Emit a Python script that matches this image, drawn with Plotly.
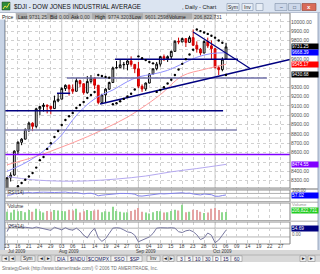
import plotly.graph_objects as go

# ---------------- data ----------------
TICK_IDX = list(range(0, 76, 3))
TICK_LABELS = ['13', '16', '21', '24', '29', '03', '06', '11', '14', '19', '24', '27', '01',
               '04', '10', '15', '18', '23', '28', '01', '06', '09', '14', '19', '22', '27']
MONTH_IDX = [0, 15, 36, 57]
MONTH_LABELS = ['Jul 2009', 'Aug 2009', 'Sep 2009', 'Oct 2009']

OPEN = [8146, 8331, 8360, 8616, 8711, 8744, 8848, 8915, 8881, 9069, 9093, 9108, 9096, 9071, 9154,
        9172, 9286, 9320, 9281, 9256, 9370, 9337, 9241, 9362, 9398, 9321, 9135, 9218, 9279, 9350,
        9506, 9509, 9539, 9543, 9581, 9544, 9496, 9310, 9281, 9345, 9441, 9497, 9547, 9627, 9605,
        9626, 9683, 9791, 9784, 9820, 9779, 9830, 9749, 9707, 9665, 9789, 9742, 9712, 9509, 9488,
        9601.26]
HIGH = [8335, 8390, 8625, 8720, 8755, 8860, 8930, 8925, 9080, 9100, 9130, 9115, 9100, 9210, 9230,
        9300, 9330, 9330, 9330, 9400, 9380, 9340, 9420, 9430, 9410, 9321, 9230, 9290, 9360, 9520,
        9580, 9600, 9570, 9590, 9630, 9544, 9570, 9330, 9350, 9450, 9500, 9570, 9630, 9650, 9640,
        9690, 9800, 9830, 9830, 9820, 9850, 9917, 9790, 9720, 9800, 9830, 9800, 9712, 9530, 9620,
        9774.32]
LOW = [8146, 8291, 8355, 8580, 8680, 8744, 8820, 8830, 8860, 9000, 9040, 9020, 9010, 9071, 9140,
       9172, 9260, 9210, 9230, 9256, 9300, 9220, 9230, 9340, 9280, 9117, 9135, 9140, 9270, 9350,
       9500, 9509, 9490, 9480, 9520, 9450, 9290, 9250, 9260, 9340, 9440, 9480, 9520, 9580, 9570,
       9600, 9683, 9760, 9780, 9730, 9779, 9740, 9670, 9640, 9665, 9720, 9600, 9500, 9430, 9470,
       9601.26]
CLOSE = [8331.68, 8359.49, 8616.21, 8711.82, 8743.94, 8848.15, 8915.94, 8881.26, 9069.29, 9093.24,
         9108.51, 9096.72, 9070.72, 9154.46, 9171.61, 9286.56, 9320.19, 9280.97, 9256.26, 9370.07,
         9337.95, 9241.45, 9361.61, 9398.19, 9321.40, 9135.34, 9217.94, 9279.16, 9350.05, 9505.96,
         9509.28, 9539.29, 9543.52, 9580.63, 9544.20, 9496.28, 9310.60, 9280.67, 9344.61, 9441.27,
         9497.34, 9547.22, 9627.48, 9605.41, 9626.80, 9683.41, 9791.71, 9783.92, 9820.20, 9778.86,
         9829.87, 9748.55, 9707.44, 9665.19, 9789.36, 9742.20, 9712.28, 9509.28, 9487.67, 9599.75,
         9731.25]
VOLUME_M = [210, 190, 260, 220, 230, 200, 250, 210, 280, 220, 190, 230, 210, 250, 240, 230, 220, 260,
            240, 280, 190, 220, 250, 230, 240, 260, 200, 220, 210, 330, 230, 210, 190, 200, 230, 260,
            300, 210, 190, 170, 200, 230, 220, 190, 200, 230, 260, 240, 380, 200, 210, 260, 250, 210,
            180, 190, 280, 300, 250, 200, 206.8]
RSI = [55, 57, 68, 72, 73, 76, 78, 75, 80, 80, 81, 79, 76, 78, 79, 81, 82, 77, 74, 78, 75, 66, 71, 72,
       64, 50, 55, 58, 62, 69, 69, 70, 70, 72, 68, 63, 49, 47, 52, 58, 61, 64, 68, 66, 67, 70, 75, 74,
       76, 71, 73, 65, 61, 57, 65, 61, 59, 46, 45, 52, 57.02]
CCI = [20, 170, 140, 130, 110, 120, 115, 100, 125, 110, 95, 70, 50, 120, 85, 60, 110, 70, 55, 100,
       40, -60, -120, 10, 100, -120, -200, -140, -20, 100, 110, 100, 60, 15, 0, -60, -210, -170, -130,
       -100, -20, 100, 110, 100, 105, 110, 100, 20, 0, 40, 55, 20, -50, -160, -120, -10, -60, -230,
       -170, -60, 54.69]

SAR_IDX = list(range(3, 61))
SAR = [8240, 8276, 8310, 8345, 8382, 8440, 8520, 8553, 8640, 8700, 8767, 8832, 8896, 8949, 8990, 9024,
       9078, 9110, 9142, 9185, 9217, 9249, 9430, 9420, 9410, 9402, 9117, 9128, 9150, 9175, 9200, 9230,
       9275, 9630, 9610, 9590, 9570, 9555, 9250, 9270, 9300, 9340, 9380, 9430, 9490, 9550, 9600, 9650,
       9700, 9917, 9900, 9885, 9870, 9850, 9830, 9800, 9775, 9430.68]

MA20_IDX = [0, 4, 8, 12, 15, 18, 21, 25, 29, 33, 36, 40, 44, 48, 52, 56, 60]
MA20 = [8400, 8470, 8560, 8680, 8790, 8950, 9080, 9200, 9270, 9360, 9410, 9440, 9480, 9550, 9620,
        9660, 9668.39]
MA50_IDX = [0, 8, 15, 22, 28, 33, 37, 42, 48, 54, 60]
MA50 = [8470, 8560, 8660, 8770, 8880, 8980, 9080, 9220, 9420, 9490, 9545.17]
MA200_IDX = [0, 7, 15, 22, 30, 38, 45, 52, 60]
MA200 = [8345, 8310, 8295, 8298, 8318, 8350, 8395, 8430, 8474.55]

# horizontal levels: price, start idx, end idx
LEVEL_PRICE = [9598, 9398, 9235, 9049, 8842, 8580]
LEVEL_START = [29.6, 16.4, 13.7, -0.55, -0.55, -0.55]
LEVEL_END = [63.3, 71.2, 17.3, 59.2, 63.0, 77.53]
TREND1_IDX = [25.5, 77.5]
TREND1 = [9120, 9596]
TREND2_IDX = [51, 66.6]
TREND2 = [9890, 9500]

PRICE_TICKS = list(range(8300, 10001, 100))
HIDDEN_TICKS = [9700, 9500, 9400, 8500]   # covered by value boxes in the reference

# ---------------- layout helpers ----------------
W, H = 320, 274
def px(x):
    return x / W
def py(y):
    return 1 - y / H
def ydom(top, bot):
    return [py(bot), py(top)]

XDOM = [px(5), px(290)]
XR = [-0.55, 77.53]
idx = list(range(len(CLOSE)))
FONT = 'Liberation Sans'

fig = go.Figure()
fig.add_trace(go.Candlestick(
    x=idx, open=OPEN, high=HIGH, low=LOW, close=CLOSE,
    increasing=dict(line=dict(color='#000000', width=1), fillcolor='#ffffff'),
    decreasing=dict(line=dict(color='#cc0000', width=1), fillcolor='#ff0000'),
    whiskerwidth=0, showlegend=False, hoverinfo='skip', xaxis='x', yaxis='y'))

fig.add_trace(go.Scatter(x=MA200_IDX, y=MA200, mode='lines', line=dict(color='#b4a8f0', width=1, shape='spline'),
                         xaxis='x', yaxis='y', hoverinfo='skip'))
fig.add_trace(go.Scatter(x=MA50_IDX, y=MA50, mode='lines', line=dict(color='#ff9c9c', width=1, shape='spline'),
                         xaxis='x', yaxis='y', hoverinfo='skip'))
fig.add_trace(go.Scatter(x=MA20_IDX, y=MA20, mode='lines', line=dict(color='#9090ff', width=1, shape='spline'),
                         xaxis='x', yaxis='y', hoverinfo='skip'))

LEVEL_COLORS = ['#000080', '#7070a8', '#000080', '#000080', '#8080b0', '#8000ff']
for p, s, e, c in zip(LEVEL_PRICE, LEVEL_START, LEVEL_END, LEVEL_COLORS):
    fig.add_trace(go.Scatter(x=[s, e], y=[p, p], mode='lines', line=dict(color=c, width=1.5),
                             xaxis='x', yaxis='y', hoverinfo='skip'))
fig.add_trace(go.Scatter(x=TREND1_IDX, y=TREND1, mode='lines', line=dict(color='#000080', width=1.5),
                         xaxis='x', yaxis='y', hoverinfo='skip'))
fig.add_trace(go.Scatter(x=TREND2_IDX, y=TREND2, mode='lines', line=dict(color='#000080', width=1.2),
                         xaxis='x', yaxis='y', hoverinfo='skip'))
fig.add_trace(go.Scatter(x=SAR_IDX, y=SAR, mode='markers', marker=dict(color='#000000', size=2.4),
                         xaxis='x', yaxis='y', hoverinfo='skip'))

# RSI
fig.add_trace(go.Scatter(x=idx, y=RSI, mode='lines', line=dict(color='#8484ec', width=1),
                         xaxis='x2', yaxis='y2', hoverinfo='skip'))
# Volume
vcol = ['#8ed88e' if c >= o else '#e4a4a4' for o, c in zip(OPEN, CLOSE)]
fig.add_trace(go.Bar(x=idx, y=VOLUME_M, marker=dict(color=vcol, line=dict(width=0)), width=0.35,
                     xaxis='x3', yaxis='y3', hoverinfo='skip'))
# CCI
fig.add_trace(go.Scatter(x=idx, y=CCI, mode='lines', line=dict(color='#7878a0', width=1),
                         xaxis='x4', yaxis='y4', hoverinfo='skip'))

grid = dict(showgrid=True, gridcolor='#d0d0d0', griddash='dot', gridwidth=1)
def xax(anchor):
    d = dict(domain=XDOM, range=XR, tickvals=TICK_IDX, showticklabels=False, zeroline=False,
             showline=False, ticks='', anchor=anchor, fixedrange=True)
    d.update(grid)
    return d

MAIN_TOP, MAIN_BOT = 13, 188
Y_TOP = 8300 + (180.7 - MAIN_TOP) / 0.0935
Y_BOT = 8300 + (180.7 - MAIN_BOT) / 0.0935

fig.update_layout(
    width=W, height=H, margin=dict(l=0, r=0, t=0, b=0),
    paper_bgcolor='#ffffff', plot_bgcolor='#ffffff', showlegend=False,
    font=dict(family=FONT, size=5, color='#404040'),
    bargap=0.5,
    xaxis=dict(**xax('y'), rangeslider=dict(visible=False)),
    xaxis2=dict(**xax('y2'), matches='x'),
    xaxis3=dict(**xax('y3'), matches='x'),
    xaxis4=dict(**xax('y4'), matches='x'),
    yaxis=dict(domain=ydom(MAIN_TOP, MAIN_BOT), range=[Y_BOT, Y_TOP], side='right', anchor='x',
               tickvals=PRICE_TICKS,
               ticktext=['' if v in HIDDEN_TICKS else '%.2f' % v for v in PRICE_TICKS],
               tickfont=dict(size=5, color='#505050', family=FONT), ticks='', ticklen=0,
               zeroline=False, fixedrange=True, **grid),
    yaxis2=dict(domain=ydom(190, 201.5), range=[0, 100], showticklabels=False, showgrid=False,
                zeroline=False, anchor='x2', fixedrange=True),
    yaxis3=dict(domain=ydom(203, 220.5), range=[0, 420], showticklabels=False, showgrid=False,
                zeroline=False, anchor='x3', fixedrange=True),
    yaxis4=dict(domain=ydom(222, 244), range=[-260, 240], showticklabels=False, showgrid=False,
                zeroline=False, anchor='x4', fixedrange=True),
)

shapes = []
def rect(x0, y0, x1, y1, fill, line=None, lw=0.6, layer='above'):
    shapes.append(dict(type='rect', xref='paper', yref='paper', x0=px(x0), x1=px(x1), y0=py(y1), y1=py(y0),
                       fillcolor=fill, line=dict(color=line or fill, width=lw if line else 0), layer=layer))
def hline(x0, x1, y, color, lw=1):
    shapes.append(dict(type='line', xref='paper', yref='paper', x0=px(x0), x1=px(x1), y0=py(y), y1=py(y),
                       line=dict(color=color, width=lw)))
def vline(x, y0, y1, color, lw=1):
    shapes.append(dict(type='line', xref='paper', yref='paper', x0=px(x), x1=px(x), y0=py(y0), y1=py(y1),
                       line=dict(color=color, width=lw)))

# month separators across all panels
for m in MONTH_IDX[1:]:
    shapes.append(dict(type='line', xref='x', yref='paper', x0=m, x1=m, y0=py(244), y1=py(13),
                       line=dict(color='#c8c8c8', width=1), layer='below'))
# RSI 30/70 and CCI +/-100
for v in (30, 70):
    shapes.append(dict(type='line', xref='paper', yref='y2', x0=XDOM[0], x1=XDOM[1], y0=v, y1=v,
                       line=dict(color='#a0a0a0', width=0.8), layer='below'))
for v in (100, -100):
    shapes.append(dict(type='line', xref='paper', yref='y4', x0=XDOM[0], x1=XDOM[1], y0=v, y1=v,
                       line=dict(color='#a0a0a0', width=0.8), layer='below'))

# panel frames / separators
for (t, b) in [(13, 188), (190, 201.5), (203, 220.5), (222, 244)]:
    hline(5, 290, t, '#909090', 1)
    hline(5, 290, b, '#909090', 1)
vline(290, 13, 244, '#808080', 1)
vline(5, 13, 244, '#909090', 1)
rect(5, 188, 318, 190, '#b8b8b8')
rect(5, 201.5, 318, 203, '#c8c8c8')
rect(5, 220.5, 318, 222, '#c8c8c8')

# window frame
rect(0, 0, 4.5, 274, '#c8d4e6')
vline(4.5, 13, 250, '#8898b0', 0.8)
rect(318, 0, 320, 274, '#c8d4e6')
vline(318, 13, 250, '#8898b0', 0.8)
# title bar
rect(0, 0, 320, 12.5, '#dbe4f1')
hline(0, 320, 12.5, '#a8b4c8', 0.8)
rect(2, 2, 10, 10, '#2e8b3a', '#204020', 0.5)
shapes.append(dict(type='path', path='M %f,%f L %f,%f L %f,%f L %f,%f' % (
    px(3), py(9), px(5), py(6), px(7), py(7.5), px(9.5), py(3)), xref='paper', yref='paper',
    line=dict(color='#f0e040', width=1)))
for x0, x1 in [(227, 239), (242, 253)]:
    rect(x0, 3.5, x1, 10.5, '#e8eef6', '#8090a8', 0.6)
rect(256, 3.5, 263, 10.5, '#e8eef6', '#8090a8', 0.6)
rect(275, 3.5, 287, 10.5, '#cdd8ea', '#8090a8', 0.6)
rect(288.5, 3.5, 300.5, 10.5, '#cdd8ea', '#8090a8', 0.6)
rect(302, 3.5, 316, 10.5, '#d96a58', '#904030', 0.6)

# info bar
rect(15.5, 13, 216, 19.5, '#c4c4c4')
rect(0, 13, 15.5, 19.5, '#ffffff')
for x0, x1 in [(16, 27), (47, 57), (68, 78), (92, 106), (129.5, 143), (167, 192)]:
    rect(x0, 13.3, x1, 19.2, '#acacac')

# bottom area
rect(0, 250, 320, 262, '#d8d8d8')
hline(0, 320, 255, '#a0a0a0', 0.6)
rect(0, 262, 320, 274, '#ffffff')

# toolbar buttons
for x0, x1 in [(2, 8.5), (9.5, 15), (21, 35), (38, 44), (45, 51), (147, 160), (163, 168), (169, 174),
               (300, 306), (308, 315)]:
    rect(x0, 255.8, x1, 261.5, '#ececec', '#808080', 0.5)
TABS = [('DIA', 55, 68), ('$INDU', 68, 87), ('$COMPX', 87, 111), ('SSO', 111, 127), ('$SP', 127, 142),
        ('3', 177, 185), ('5', 185, 193), ('10', 193, 203), ('30', 203, 213), ('D', 213, 221),
        ('15', 221, 231), ('60', 231, 242)]
for t, x0, x1 in TABS:
    rect(x0, 255.8, x1, 261.5, '#f4f4f4' if t != 'D' else '#ffffff', '#808080', 0.5)

fig.update_layout(shapes=shapes)

ann = []
def text(x, y, s, size=5, color='#303030', xa='left', ya='middle', bg=None, width=None, bold=False,
         xref='paper', yref='paper'):
    d = dict(x=px(x) if xref == 'paper' else x, y=py(y) if yref == 'paper' else y, xref=xref, yref=yref,
             text=('<b>%s</b>' % s) if bold else s, showarrow=False, xanchor=xa, yanchor=ya,
             font=dict(family=FONT, size=size, color=color), borderpad=0)
    if bg:
        d['bgcolor'] = bg
    if width:
        d['width'] = width
        d['align'] = 'left'
    ann.append(d)

text(13, 6.5, '$DJI - DOW JONES INDUSTRIAL AVERAGE', 6.3, '#101010')
text(181, 6.8, ', Daily - Chart', 5.6, '#202020')
text(233, 7, 'Sym', 5, '#202020', xa='center')
text(247.5, 7, 'Inv', 5, '#202020', xa='center')
text(281, 7, '–', 5, '#203050', xa='center')
text(294.5, 7, '□', 5, '#203050', xa='center')
text(309, 7, 'x', 6, '#ffffff', xa='center', bold=True)

INFO = [('Price', 0.5, '#202020'), ('Last', 17, '#202020'), ('9731.25', 28, '#404040'), ('Bid', 48.5, '#202020'),
        ('0.00', 58, '#404040'), ('Ask', 69.5, '#202020'), ('0.00', 79, '#404040'), ('High', 93.5, '#202020'),
        ('9774.3203', 107, '#404040'), ('Low', 130.5, '#202020'), ('9601.2598', 143.5, '#404040'),
        ('Volume', 168, '#202020'), ('206,822,731', 193, '#404040')]
for s, x, c in INFO:
    text(x, 16.5, s, 5, c)

# value boxes on right axis, positioned by the price axis
BOX_TEXT = ['9731.25', '9668.39', '9545.17', '9430.68', '8474.55']
BOX_VALUE = [9731.25, 9668.39, 9545.17, 9430.68, 8474.55]
BOX_COLOR = ['#000000', '#0000ff', '#ff0000', '#000000', '#8000ff']
for s, v, c in zip(BOX_TEXT, BOX_VALUE, BOX_COLOR):
    ann.append(dict(x=px(291), y=v, xref='paper', yref='y', text=s, showarrow=False, xanchor='left',
                    yanchor='middle', font=dict(family=FONT, size=4.6, color='#ffffff'), borderpad=0,
                    bgcolor=c, width=26, align='left'))
text(291, 190.8, '100.00', 4.5, '#606060')
text(291, 195.8, '57.02', 4.8, '#ffffff', bg='#0000ff', width=26)
text(291, 204.8, 'Volume', 4.3, '#909090')
text(291, 210.5, '206,822,731', 4.5, '#ffffff', bg='#22cc22', width=26)
text(291, 228, '54.69', 4.8, '#ffffff', bg='#000080', width=26)
text(291, 234, '0.00', 4.5, '#606060')

text(7, 192, 'RSI(14)', 4.6, '#303030')
text(7, 206.5, 'Volume', 4.6, '#303030')
text(7, 226, 'CCI(14)', 4.6, '#303030')

for i, s in zip(TICK_IDX, TICK_LABELS):
    ann.append(dict(x=i, y=py(246.8), xref='x4', yref='paper', text=s, showarrow=False, xanchor='center',
                    yanchor='middle', font=dict(family=FONT, size=4.8, color='#404040')))
for i, s in zip(MONTH_IDX, MONTH_LABELS):
    ann.append(dict(x=max(i - 1.2, -0.4), y=py(251.3), xref='x4', yref='paper', text=s, showarrow=False,
                    xanchor='left', yanchor='middle', font=dict(family=FONT, size=4.6, color='#404040')))

for s, x in [('◄', 5.2), ('◄', 12.2), ('Sym', 28), ('◄', 41), ('►', 48), ('Inv', 153.5), ('◄', 165.5),
             ('►', 171.5), ('►', 303), ('►', 311.5)]:
    text(x, 258.7, s, 4.8, '#202020', xa='center')
for t, x0, x1 in TABS:
    text((x0 + x1) / 2, 258.7, t, 5, '#202060', xa='center')
text(0.5, 267.5, 'StrategyDesk (http://www.tdameritrade.com/) © 2006 TD AMERITRADE, Inc.', 4.6, '#707070')

fig.update_layout(annotations=ann)
fig.write_html('out.html')
